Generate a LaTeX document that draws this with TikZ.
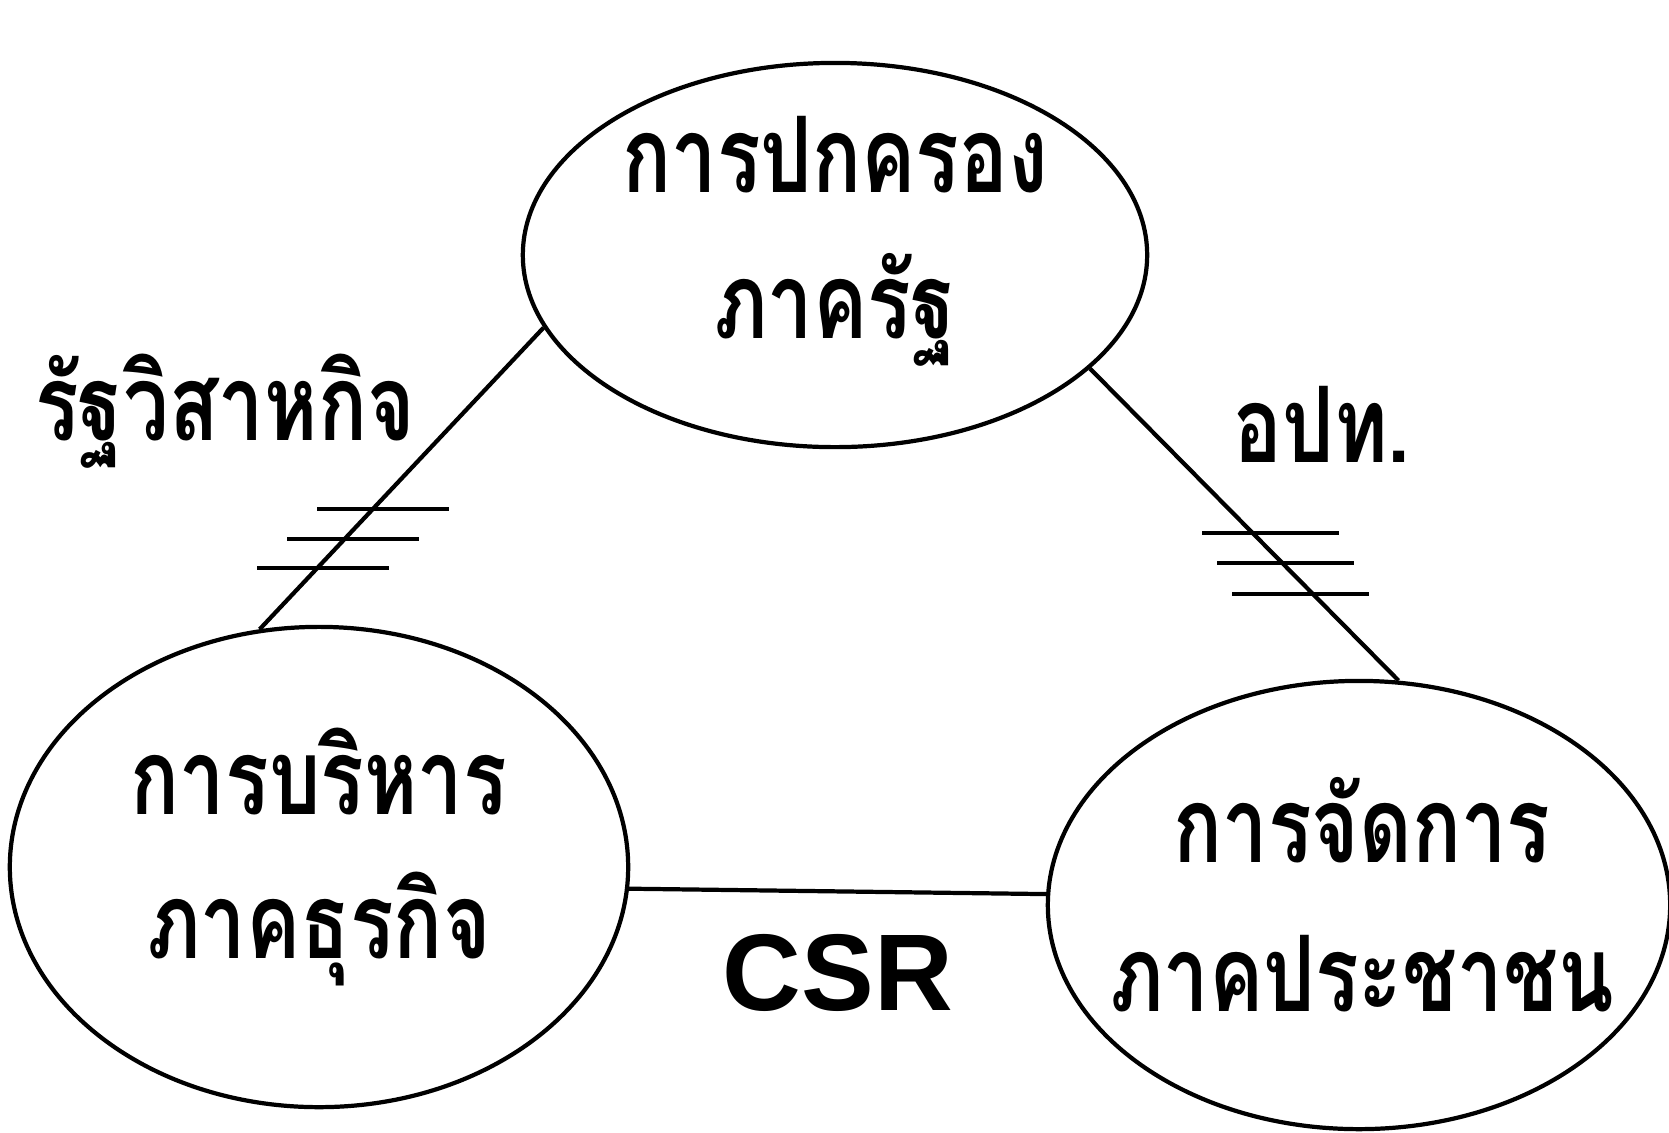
\documentclass[tikz,border=0pt]{standalone}
\usepackage{fontspec}
\usetikzlibrary{shapes.geometric}
\newfontfamily\thaifont[Script=Thai,FakeStretch=0.77]{Loma}
\newfontfamily\csrfont{Liberation Sans}

\begin{document}
\begin{tikzpicture}[-,line width=1.2pt,x=0.01cm,y=-0.01cm]
    \tikzstyle{sector}=[draw, ellipse, inner sep=0pt]
    \tikzstyle{thai}=[anchor=base, inner sep=0pt, font=\thaifont\bfseries\fontsize{30}{36}\selectfont]
    \tikzstyle{hatch}=[line width=0.9pt]

    \useasboundingbox (0,0) rectangle (1669,1132);

    % the three sectors
    \node[sector, minimum width=6.24cm, minimum height=3.84cm] (gov) at (835,255) {};
    \node[sector, minimum width=6.18cm, minimum height=4.80cm] (biz) at (319,867) {};
    \node[sector, minimum width=6.22cm, minimum height=4.48cm] (civ) at (1359,905) {};

    \node[thai] (gov1) at (835,192)  {การปกครอง};
    \node[thai] (gov2) at (835,338)  {ภาครัฐ};
    \node[thai] (biz1) at (319,814)  {การบริหาร};
    \node[thai] (biz2) at (319,958)  {ภาคธุรกิจ};
    \node[thai] (civ1) at (1362,862) {การจัดการ};
    \node[thai] (civ2) at (1362,1011) {ภาคประชาชน};

    \node[thai] (soe) at (225,440)  {รัฐวิสาหกิจ};
    \node[thai] (lao) at (1322,462) {อปท.};
    \node[anchor=base, inner sep=0pt, font=\csrfont\bfseries\fontsize{31}{36}\selectfont] (csr) at (838,1010) {CSR};

    \path
     (gov.194) edge (biz.104)
     (gov.336) edge (civ.80)
     (biz.-4.6) edge (civ.178.3)
     ;

    % hatch marks
    \foreach \x/\y in {317/509, 287/539, 257/568}
      \draw[hatch] (\x,\y) -- ++(132,0);
    \foreach \x/\y in {1202/533, 1217/563, 1232/594}
      \draw[hatch] (\x,\y) -- ++(137,0);
\end{tikzpicture}
\end{document}
